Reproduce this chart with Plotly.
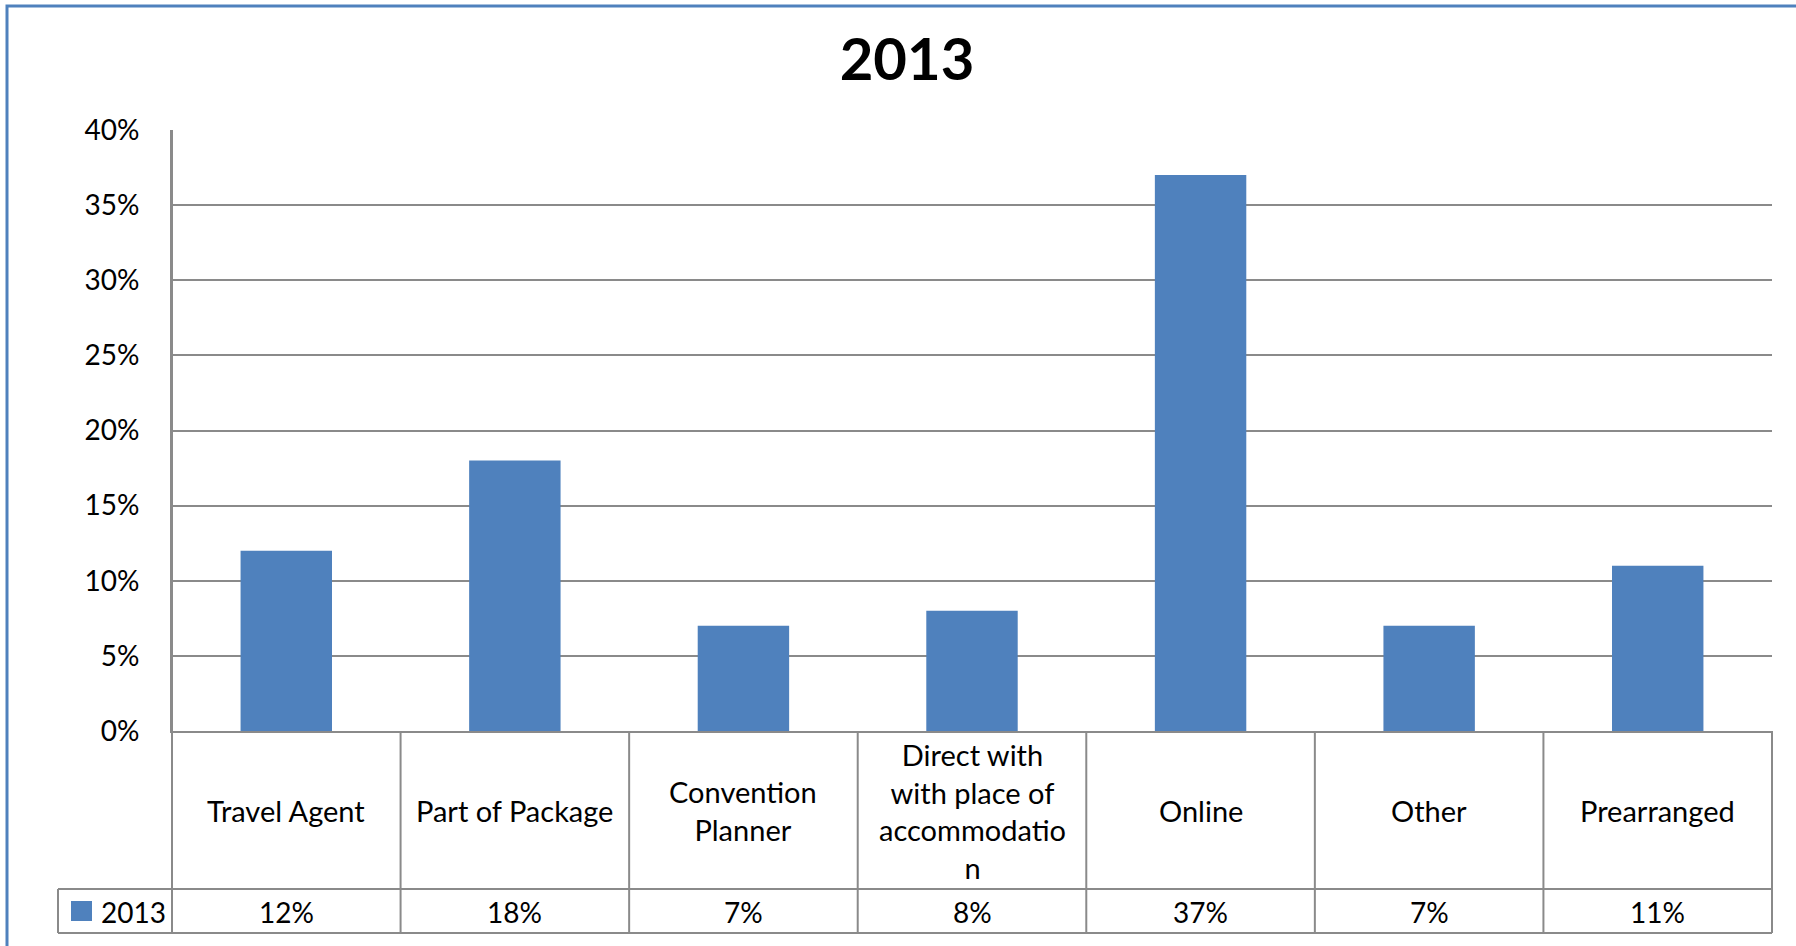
import plotly.graph_objects as go

# Booking channel shares for 2013
categories = ["Travel Agent", "Part of Package", "Convention<br>Planner",
              "Direct with<br>with place of<br>accommodatio<br>n",
              "Online", "Other", "Prearranged"]
values_2013 = [0.12, 0.18, 0.07, 0.08, 0.37, 0.07, 0.11]
series_name = "2013"
y_ticks = [0, 0.05, 0.10, 0.15, 0.20, 0.25, 0.30, 0.35, 0.40]

W, H = 1796, 946
L, R, T, B = 172, 24, 130, 215
PW, PH = W - L - R, H - T - B

BLUE = "#4F81BD"
GRID = "#8A8A8A"
FONT = "Lato, Carlito, Calibri, sans-serif"


def px_x(px):
    return (px - L) / PW


def px_y(py):
    return (H - B - py) / PH


n = len(categories)
x_idx = list(range(n))

fig = go.Figure(go.Bar(
    x=x_idx, y=values_2013, name=series_name,
    marker=dict(color=BLUE, line=dict(width=0)),
    width=0.4, showlegend=False,
))

shapes = []
row1_bottom = px_y(889)
row2_bottom = px_y(933)

# data-table column separators
for k in range(n + 1):
    xp = k / n
    y_top = 1 if k == 0 else 0
    shapes.append(dict(type="line", xref="paper", yref="paper",
                       x0=xp, x1=xp, y0=row2_bottom, y1=y_top,
                       line=dict(color=GRID, width=2)))
# horizontal table rules and legend cell
for yy in (row1_bottom, row2_bottom):
    shapes.append(dict(type="line", xref="paper", yref="paper",
                       x0=px_x(58), x1=1, y0=yy, y1=yy,
                       line=dict(color=GRID, width=2)))
shapes.append(dict(type="line", xref="paper", yref="paper",
                   x0=px_x(58), x1=px_x(58), y0=row2_bottom, y1=row1_bottom,
                   line=dict(color=GRID, width=2)))
# legend key swatch
shapes.append(dict(type="rect", xref="paper", yref="paper",
                   x0=px_x(71), x1=px_x(92), y0=px_y(921), y1=px_y(901),
                   fillcolor=BLUE, line=dict(width=0)))
# outer chart frame
shapes.append(dict(type="rect", xref="paper", yref="paper",
                   x0=px_x(7), x1=px_x(1810), y0=px_y(960), y1=px_y(6),
                   line=dict(color=BLUE, width=3), fillcolor="rgba(0,0,0,0)"))

annotations = []
for i, (cat, v) in enumerate(zip(categories, values_2013)):
    annotations.append(dict(x=i, y=px_y(811), xref="x", yref="paper",
                            text=cat, showarrow=False, xanchor="center",
                            yanchor="middle",
                            font=dict(family=FONT, size=29, color="black")))
    annotations.append(dict(x=i, y=px_y(912), xref="x", yref="paper",
                            text=f"{v:.0%}", showarrow=False, xanchor="center",
                            yanchor="middle",
                            font=dict(family=FONT, size=28, color="black")))
annotations.append(dict(x=px_x(99), y=px_y(912), xref="paper", yref="paper",
                        text=series_name, showarrow=False, xanchor="left",
                        yanchor="middle",
                        font=dict(family=FONT, size=28, color="black")))

fig.update_layout(
    width=W, height=H,
    margin=dict(l=L, r=R, t=T, b=B),
    paper_bgcolor="white", plot_bgcolor="white",
    font=dict(family=FONT, color="black"),
    title=dict(text=series_name, x=907 / W, xanchor="center",
               y=1 - 60 / H, yanchor="middle",
               font=dict(family=FONT, size=58, color="black", weight="bold")),
    bargap=0.6,
    shapes=shapes,
    annotations=annotations,
)
fig.update_xaxes(range=[-0.5, n - 0.5], showticklabels=False, ticks="",
                 showgrid=False, zeroline=False,
                 showline=True, linecolor=GRID, linewidth=2)
fig.update_yaxes(range=[0, 0.40], tickvals=y_ticks, tickformat=".0%",
                 showgrid=True, gridcolor=GRID, gridwidth=2,
                 zeroline=False, showline=True, linecolor=GRID, linewidth=2,
                 ticks="", ticklabelstandoff=25,
                 tickfont=dict(family=FONT, size=28, color="black"))

fig.write_html("out.html")
